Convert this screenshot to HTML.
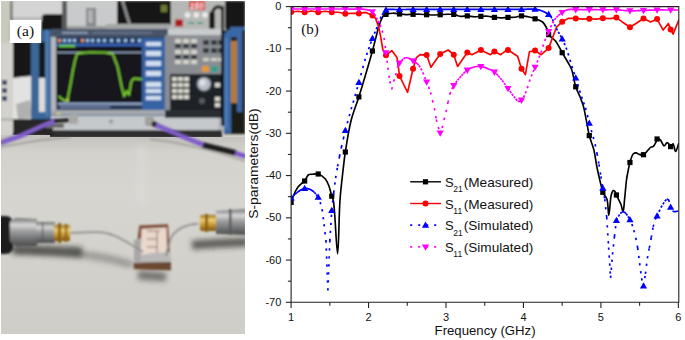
<!DOCTYPE html>
<html><head><meta charset="utf-8"><style>
html,body{margin:0;padding:0;background:#fff;width:685px;height:340px;overflow:hidden}
svg{display:block}
text{font-family:"Liberation Sans",sans-serif;fill:#111}
</style></head><body>
<svg width="685" height="340" viewBox="0 0 685 340">
<defs>
<clipPath id="pc"><rect x="291.1" y="6.6" width="387.7" height="295.7"/></clipPath>
<clipPath id="phc"><rect x="1" y="1" width="244" height="333"/></clipPath>
<filter id="bl" filterUnits="userSpaceOnUse" x="0" y="0" width="250" height="340"><feGaussianBlur stdDeviation="0.9"/></filter>
<filter id="bl2" filterUnits="userSpaceOnUse" x="0" y="0" width="250" height="340"><feGaussianBlur stdDeviation="2.5"/></filter>
</defs>
<g clip-path="url(#phc)">
<rect x="1" y="1" width="244" height="332" fill="#d2d1cc"/>
<g filter="url(#bl)">
<!-- top background -->
<rect x="1" y="1" width="244" height="40" fill="#bfc0c0"/>
<rect x="8" y="1" width="56" height="22" fill="#d3d4d3"/>
<path d="M41,30 L41,19 C41,16 43,14 47,14 L66,14 L66,30 Z" fill="#141414"/>
<rect x="12" y="17" width="30" height="4" fill="#b8b9b8"/>
<rect x="62" y="1" width="6" height="30" fill="#5a5a5a"/>
<rect x="67" y="1" width="51" height="29" fill="#c9cacb"/>
<rect x="67" y="26" width="51" height="4" fill="#9a9b9c"/>
<rect x="86" y="8" width="10" height="18" fill="#858688"/>
<rect x="88" y="10" width="5" height="13" fill="#b0b2b4"/>
<rect x="117" y="1" width="54" height="24" fill="#121416"/>
<path d="M121,1 L124,1 L131,24 L128,24 Z" fill="#8c8e90"/>
<rect x="161" y="5" width="6" height="7" fill="#6a7a30"/>
<rect x="106" y="24" width="64" height="7" fill="#a4a5a6"/>
<rect x="171" y="1" width="54" height="31" fill="#b6b8b5"/>
<rect x="189" y="1" width="16" height="9" fill="#d02020"/>
<text x="189.5" y="9" font-size="8.5" style="fill:#ffffff;font-family:'Liberation Sans',sans-serif;font-weight:bold;font-style:italic">150</text>
<circle cx="187.5" cy="15" r="2.8" fill="#ececec"/>
<circle cx="196.3" cy="15" r="2.8" fill="#ececec"/>
<circle cx="205" cy="15" r="2.8" fill="#ececec"/>
<rect x="175" y="19.5" width="8" height="7" fill="#b01818"/>
<rect x="188" y="22" width="6" height="2" fill="#4a9a8a"/>
<rect x="197" y="22" width="6" height="2" fill="#4a9a8a"/>
<rect x="225" y="1" width="20" height="30" fill="#121212"/>
<rect x="209" y="12" width="6" height="17" rx="2" fill="#1a1a1a"/>
<path d="M212,14 C214,6 220,5 221.5,9" fill="none" stroke="#0c0c0c" stroke-width="3"/>
<rect x="230" y="27" width="15" height="13" fill="#3a66a0"/>
<!-- left equipment strip -->
<rect x="1" y="1" width="8" height="42" fill="#c9c9bd"/>
<rect x="10" y="1" width="2.5" height="40" fill="#6a6a62"/>

<rect x="1" y="44" width="3" height="10" fill="#c88a30"/>
<rect x="2" y="80" width="5" height="5" fill="#3a4a6a"/>
<rect x="2" y="88" width="5" height="5" fill="#3a4a6a"/>
<rect x="2" y="96" width="5" height="5" fill="#3a4a6a"/>

<rect x="12" y="33" width="20" height="47" fill="#131415"/>
<path d="M12,78 L31,76 L33,121 L12,121 Z" fill="#e2e2e2"/>
<path d="M16,104 L30,100 L32,118 L18,119 Z" fill="#b0b0b0"/>
<!-- blue frame left -->
<rect x="39" y="42" width="6" height="36" fill="#121314"/>
<rect x="39" y="78" width="6" height="34" fill="#dcdcdc"/>
<path d="M31,42 L39,42 L39,30 L51,30 L51,118 C51,121 49,122 46,122 L36,122 C33,122 31,120 31,117 Z M39,42 L39,112 L45,112 L45,42 Z" fill="#3b6698" fill-rule="evenodd"/>
<rect x="46" y="30" width="2" height="86" fill="#5584bc"/>
<!-- instrument body -->
<rect x="51" y="29" width="175" height="103" fill="#b4b8bc"/>
<rect x="51" y="29" width="117" height="8" fill="#465266"/>
<rect x="62" y="32" width="26" height="1.6" fill="#9aa8c0"/>
<rect x="92" y="32" width="60" height="1.6" fill="#6a7890"/>
<rect x="168" y="29" width="58" height="7" fill="#c9ccce"/>
<!-- screen -->
<rect x="56" y="37" width="109" height="73" fill="#12171f"/>
<rect x="56" y="37" width="109" height="7" fill="#22365a"/>
<g fill="#e89a6a"><rect x="58" y="39" width="3" height="3"/><rect x="81" y="39" width="3" height="3"/></g>
<g fill="#9cc8f0"><rect x="63" y="39" width="3" height="3"/><rect x="68" y="39" width="3" height="3"/><rect x="73" y="39" width="3" height="3"/><rect x="86" y="39" width="3" height="3"/><rect x="91" y="39" width="3" height="3"/><rect x="97" y="39" width="3" height="3"/><rect x="103" y="39" width="3" height="3"/><rect x="110" y="39" width="3" height="3"/><rect x="117" y="39" width="3" height="3"/><rect x="124" y="39" width="3" height="3"/><rect x="131" y="39" width="3" height="3"/><rect x="138" y="39" width="3" height="3"/></g>
<rect x="56" y="44" width="86" height="2.2" fill="#3a66c0"/>
<rect x="59" y="45" width="16" height="2" fill="#6fd040"/>
<rect x="57" y="52" width="85" height="1" fill="#9fb4d0"/>
<rect x="56" y="102" width="88" height="8" fill="#2c3c5c"/>
<rect x="58" y="103" width="84" height="1.6" fill="#a8bcdc"/>
<rect x="60" y="106.5" width="50" height="1.3" fill="#8ea4c8"/>
<rect x="142" y="38" width="23" height="72" fill="#3564a4"/>
<g fill="#d0def0"><rect x="146" y="42" width="15" height="4"/><rect x="146" y="51" width="15" height="5"/><rect x="146" y="61" width="15" height="5"/><rect x="146" y="71" width="15" height="5"/><rect x="146" y="82" width="15" height="5"/><rect x="146" y="89" width="15" height="4"/><rect x="146" y="96" width="15" height="4"/></g>
<path d="M58.4,96 L62,99 L65,101 L67.5,100 L70.7,83 L73,70 L75,60.6 L77.2,53.5 L90,52.3 L104.7,52.5 L112.8,54 L117.7,67 L121.6,86.5 L124.1,96 L126.7,91.3 L129,94.6 L131.3,81.6 L133.9,78.4 L142,79.4" fill="none" stroke="#86dc30" stroke-width="1.6"/>
<circle cx="67.5" cy="100.5" r="1.3" fill="#e0f070"/>
<!-- below screen strip -->
<rect x="51" y="110" width="175" height="5" fill="#a4a8ad"/>
<rect x="51" y="115" width="167" height="1.2" fill="#4a6a9a"/>
<rect x="51" y="116" width="167" height="15" fill="#c6c9cc"/>
<circle cx="58.4" cy="114" r="1.3" fill="#e8e020"/>
<circle cx="111" cy="121.5" r="2.2" fill="#9a9ea2"/>
<!-- right keypad -->
<rect x="165" y="35" width="60" height="75" fill="#8a8e93"/>
<g fill="#d4d3cb">
<rect x="175" y="39" width="6" height="4"/><rect x="183" y="39" width="6" height="4"/><rect x="191" y="39" width="6" height="4"/>
<rect x="175" y="50" width="6" height="4"/><rect x="183" y="50" width="6" height="4"/><rect x="191" y="50" width="6" height="4"/>
<rect x="175" y="60" width="6" height="4"/><rect x="183" y="60" width="6" height="4"/><rect x="191" y="60" width="6" height="4"/>
<rect x="203" y="58" width="6" height="3"/><rect x="211" y="58" width="6" height="3"/><rect x="218" y="58" width="5" height="3"/>
</g>
<g fill="#34373b">
<rect x="175" y="44" width="6" height="4"/><rect x="183" y="44" width="6" height="4"/><rect x="191" y="44" width="6" height="4"/>
<rect x="175" y="55" width="6" height="4"/><rect x="183" y="55" width="6" height="4"/><rect x="191" y="55" width="6" height="4"/>
<rect x="203" y="40" width="6" height="5"/><rect x="211" y="40" width="6" height="5"/><rect x="218" y="40" width="5" height="5"/>
<rect x="203" y="48" width="6" height="5"/><rect x="211" y="48" width="6" height="5"/><rect x="218" y="48" width="5" height="5"/>
</g>
<rect x="202" y="66" width="7" height="6" rx="2" fill="#e8982c"/>
<rect x="211" y="66" width="7" height="6" rx="2" fill="#2e9e8e"/>
<rect x="170" y="74" width="53" height="36" fill="#1f2226"/>
<g fill="#d8d7cf">
<rect x="172" y="77" width="5" height="4"/><rect x="178" y="77" width="5" height="4"/><rect x="184" y="77" width="5" height="4"/>
<rect x="172" y="83" width="5" height="4"/><rect x="178" y="83" width="5" height="4"/><rect x="184" y="83" width="5" height="4"/>
<rect x="172" y="89" width="5" height="4"/><rect x="178" y="89" width="5" height="4"/><rect x="184" y="89" width="5" height="4"/>
<rect x="172" y="95" width="5" height="4"/><rect x="178" y="95" width="5" height="4"/><rect x="184" y="95" width="5" height="4"/>
<rect x="215" y="83" width="5" height="4"/><rect x="215" y="97" width="5" height="4"/><rect x="215" y="103" width="5" height="4"/>
</g>
<circle cx="204" cy="84" r="8" fill="#444a52"/>
<circle cx="204" cy="84" r="6.5" fill="#b8c0c8"/>
<circle cx="202.5" cy="82.5" r="3" fill="#dce2e8"/>
<circle cx="202" cy="101" r="3" fill="#555a60"/>
<rect x="165" y="110" width="59" height="8" fill="#2a2d31"/>
<!-- right blue frame -->
<rect x="224" y="30" width="21" height="104" fill="#1e1c18"/>
<rect x="231" y="41" width="6" height="62" fill="#b47c34"/>
<path d="M224,34 L228,30 L242,30 L242,112 L237,112 L237,37 L231,37 L231,133 L224,133 Z" fill="#3a68a4"/>
<rect x="225.5" y="38" width="1.5" height="90" fill="#5a8ac4"/>
<path d="M222.5,6 C222.5,30 222.5,60 222.5,126" fill="none" stroke="#0c0c0c" stroke-width="3"/>
<!-- shadow under instrument -->
<rect x="46" y="130" width="176" height="8" fill="#2e2e2e"/>
<rect x="13" y="119" width="40" height="17" fill="#272727"/>
<rect x="46" y="123" width="18" height="5" fill="#6a6a6a"/>
<rect x="1" y="43" width="12" height="89" fill="#d3d2cc"/>
<rect x="2" y="80" width="5" height="5" fill="#3a4a6a"/>
<rect x="2" y="88" width="5" height="5" fill="#3a4a6a"/>
<rect x="2" y="96" width="5" height="5" fill="#3a4a6a"/>
<rect x="1" y="118" width="12" height="3" fill="#b8b8b4"/>
</g>
<!-- table -->
<linearGradient id="tg" x1="0" y1="137" x2="0" y2="334" gradientUnits="userSpaceOnUse"><stop offset="0" stop-color="#c4c3be"/><stop offset="0.08" stop-color="#d3d2cd"/><stop offset="0.3" stop-color="#d6d5d0"/><stop offset="1" stop-color="#cfcdc8"/></linearGradient>
<rect x="1" y="137" width="244" height="197" fill="url(#tg)"/>
<path d="M1,135 L50,135 L50,137 L1,137 Z" fill="#c4c3be"/>
<rect x="137" y="145" width="10" height="60" fill="#dfdeda" filter="url(#bl2)" opacity="0.4"/>
<g filter="url(#bl)">
<path d="M150,139 C185,143 215,151 245,161" fill="none" stroke="#8a8984" stroke-width="1.5" opacity="0.7"/>
<!-- purple cables -->
<path d="M0,147 L35,141 L70,137" fill="none" stroke="#6a6964" stroke-width="1.2" opacity="0.7"/>
<path d="M0,143 L20,136 L42,126 L56,120.5" fill="none" stroke="#7c58c8" stroke-width="5"/>
<path d="M0,143 L20,136 L42,126 L56,120.5" fill="none" stroke="#9a80dc" stroke-width="1.5" stroke-dasharray="1.5 2" opacity="0.7"/>
<path d="M54,121 L71,120" fill="none" stroke="#222" stroke-width="4"/>
<rect x="69" y="114" width="9" height="10" rx="2" fill="#a8a8a6"/>
<rect x="145" y="116" width="9" height="10" rx="2" fill="#a0a09e"/>
<path d="M152,123 L158,126" fill="none" stroke="#222" stroke-width="5"/>
<path d="M156,125 C172,132 188,139 204,145" fill="none" stroke="#7c58c8" stroke-width="4.8"/>
<path d="M156,125 C172,132 188,139 204,145" fill="none" stroke="#9a80dc" stroke-width="1.4" stroke-dasharray="1.5 2" opacity="0.7"/>
<path d="M203,145 L236,153" fill="none" stroke="#1c1c1c" stroke-width="5.5"/>
<path d="M235,153 L246,156.5" fill="none" stroke="#7c58c8" stroke-width="4.8"/>
<!-- shadows -->
<path d="M15,252 C50,252 90,255 130,266" fill="none" stroke="#7a7975" stroke-width="4" opacity="0.6" filter="url(#bl2)"/>
<path d="M192,245 C205,244 225,243 248,242" fill="none" stroke="#2e2d2a" stroke-width="9" opacity="0.7" filter="url(#bl2)"/>
<path d="M138,275 L166,277" fill="none" stroke="#3a3935" stroke-width="9" opacity="0.6" filter="url(#bl2)"/>
<!-- left connector -->
<linearGradient id="cg" x1="0" y1="0" x2="0" y2="1"><stop offset="0" stop-color="#707172"/><stop offset="0.25" stop-color="#d8d8d8"/><stop offset="0.45" stop-color="#a0a1a2"/><stop offset="1" stop-color="#4a4b4c"/></linearGradient>
<linearGradient id="gg" x1="0" y1="0" x2="0" y2="1"><stop offset="0" stop-color="#9a7020"/><stop offset="0.3" stop-color="#f0d070"/><stop offset="0.6" stop-color="#c89a38"/><stop offset="1" stop-color="#7a5410"/></linearGradient>
<path d="M12,249 C40,250 60,251 82,252" fill="none" stroke="#2e2d2a" stroke-width="10" opacity="0.7" filter="url(#bl2)"/>
<path d="M70,252 C100,254 118,258 136,265" fill="none" stroke="#3e3d3a" stroke-width="3" opacity="0.5" filter="url(#bl2)"/>
<rect x="-6" y="216" width="19" height="38" rx="7" fill="#1c1c1c"/>
<path d="M10,222 C12,219 14,218 18,218 L37,219 L37,246 L18,246 C14,246 12,244 10,241 Z" fill="url(#cg)"/>
<rect x="36" y="222" width="19" height="21" fill="url(#cg)"/>
<rect x="42" y="222" width="1.2" height="21" fill="#555"/>
<rect x="54" y="225" width="16" height="16" rx="1" fill="url(#gg)"/>
<rect x="58" y="223" width="3" height="20" fill="#8a6010"/>
<rect x="65" y="224" width="2" height="18" fill="#8a6010"/>
<path d="M70,233 C90,232 104,231 112,235" fill="none" stroke="#8e8e8c" stroke-width="1.7"/>
<!-- device -->
<path d="M139.3,225.6 L168,224.3 L170.9,270.2 L133.8,269.1 Z" fill="#7e4a30"/>
<path d="M141.5,228.8 L166.5,227.6 L167.2,258 L140.5,259 Z" fill="#ead8cc"/>
<path d="M147,231 L157,231 L157,255 L147,255 M147,239 L157,239 M147,247 L157,247 M157,231 L160,231" fill="none" stroke="#7a5a50" stroke-width="0.8"/>
<path d="M135,256 L152,253 L170,252 L170.9,262 L134,263 Z" fill="#b9b9b9"/>
<path d="M133.8,263 L170.9,262 L170.9,270.2 L133.8,269.1 Z" fill="#6a4a30"/>
<path d="M134,240 L141,238 L141,262 L134,263 Z" fill="#a8a8a8"/>

<path d="M110,234 C122,238 132,245 143,252" fill="none" stroke="#8e8e8c" stroke-width="1.7"/>
<path d="M198.2,223.8 C188,224 178,228 172,236 C169,242 167,250 166,256" fill="none" stroke="#8e8e8c" stroke-width="1.7"/>
<!-- right connector -->
<rect x="200" y="215" width="17" height="16" rx="2" fill="url(#gg)"/>
<rect x="205" y="214" width="3" height="18" fill="#8a6010"/>
<path d="M216,211 L246,209 L246,235 L216,234 Z" fill="url(#cg)"/>
<rect x="229" y="209" width="2.5" height="26" fill="#5a5a5a"/>
</g>
</g>
<rect x="9.7" y="19.9" width="31.5" height="23.1" fill="#fff"/>
<text x="16.8" y="36.2" font-size="15.6" style="font-family:'Liberation Serif',serif">(a)</text>

<g clip-path="url(#pc)">
<path d="M291.1,202.4 C292.5,198.77 293.9,194.33 295.3,191.5 C296.27,189.55 297.14,188.14 298.2,186.8 C299.13,185.63 300.14,184.76 301.2,183.8 C302.29,182.82 303.57,182.24 304.65,181 C306.05,179.41 306.95,175.68 308.5,174.7 C309.6,174 310.82,174.41 312.2,174.3 C313.96,174.16 316.21,173.43 318.21,174 C320.62,174.69 323.58,176.88 325.4,179 C327.18,181.07 328.07,183.79 329.1,186.5 C330.23,189.48 330.94,193.54 331.76,196.2 C332.34,198.09 332.88,198.49 333.4,201 C335.08,209.11 336.5,253.82 337.6,253.8 C338.71,253.78 338.85,215.6 340,200 C340.89,187.94 342.29,176.83 343.3,168 C344.02,161.75 344.35,158.23 345.32,152 C346.69,143.15 348.71,129.72 351.2,120 C353.36,111.59 356.45,104.51 358.87,96.9 C361.21,89.52 363.29,82.47 365.5,75 C367.81,67.19 370.49,58.08 372.42,51 C373.95,45.43 375.2,40.34 376.3,36 C377.14,32.68 377.62,30.05 378.5,27.2 C379.36,24.42 380.48,21.24 381.5,19.1 C382.22,17.59 382.82,16.18 383.7,15.4 C384.37,14.81 384.98,14.7 385.98,14.4 C387.69,13.89 390.87,13.25 393.2,13.2 C395.38,13.16 397.41,13.77 399.53,14 C401.67,14.23 403.79,14.54 406,14.6 C408.31,14.66 410.74,14.37 413.09,14.3 C415.4,14.23 417.72,14.13 420,14.2 C422.24,14.27 424.45,14.57 426.64,14.7 C428.78,14.83 430.81,14.99 433,15 C435.32,15.01 437.83,14.82 440.19,14.7 C442.49,14.58 444.74,14.35 447,14.3 C449.25,14.25 451.56,14.06 453.75,14.4 C455.9,14.74 457.81,16.04 460,16.3 C462.32,16.58 464.88,15.82 467.3,15.9 C469.71,15.98 472.17,16.75 474.5,16.8 C476.68,16.85 478.67,16.4 480.86,16.3 C483.17,16.19 485.69,16 488,16.2 C490.2,16.39 492.25,17.13 494.41,17.4 C496.58,17.67 498.77,17.8 501,17.8 C503.29,17.8 505.64,17.5 507.96,17.4 C510.3,17.3 512.71,17.46 515,17.2 C517.23,16.95 519.34,15.96 521.52,15.9 C523.68,15.84 525.81,16.34 528,16.8 C530.32,17.29 532.7,17.97 535.07,18.8 C537.57,19.68 540.62,20.33 542.6,22 C544.55,23.65 545.88,26.46 546.9,28.7 C547.8,30.66 547.47,32.73 548.63,34.6 C550.07,36.95 553.58,38.5 555.7,41.2 C558.18,44.35 560.03,48.98 562.18,52.7 C564.23,56.24 566.59,59.87 568.3,63 C569.68,65.53 570.75,67.09 571.8,70 C573.36,74.32 574.1,81.79 575.73,86.8 C577.12,91.06 579.26,94.84 580.6,98.3 C581.68,101.08 582.44,102.84 583.3,105.9 C584.55,110.37 585.75,117.47 586.8,122.7 C587.72,127.28 588.17,131.22 589.29,135.6 C590.49,140.3 592.66,144.99 593.9,150 C595.2,155.27 595.65,160.79 596.8,166.5 C598.05,172.72 600.06,181.19 601.2,185.9 C601.86,188.62 601.97,190.2 602.84,192.3 C603.8,194.6 605.92,196.22 606.9,199.1 C608.3,203.23 608.12,215.3 608.8,215.3 C609.57,215.3 610.11,198.88 611.3,194.7 C611.86,192.75 612.41,190.88 613.2,190.6 C613.73,190.41 614.51,190.97 615,191.5 C615.67,192.23 615.76,193.57 616.4,195 C617.44,197.37 619.75,201.34 620.9,204.3 C621.89,206.84 622.52,211.65 623.1,211.6 C623.85,211.53 624.09,203.71 624.6,199.1 C625.22,193.41 625.87,184.68 626.5,180 C626.87,177.26 627.13,175.94 627.6,173.5 C628.21,170.31 628.94,165.89 629.95,162.5 C630.85,159.45 631.74,155.44 633.2,154 C634.07,153.15 635.22,152.84 636.2,152.9 C637.19,152.96 638,154.09 639.1,154.4 C640.38,154.76 642.14,155.21 643.5,154.7 C645.12,154.09 646.58,151.66 647.9,150.3 C649.01,149.16 649.89,147.68 650.9,147.1 C651.63,146.68 652.41,147.08 653.1,146.6 C654.16,145.87 655.33,143.59 656,142.2 C656.54,141.09 656.34,139.38 657.06,139 C657.79,138.62 659.39,139.23 660.4,140 C661.83,141.09 662.86,145.79 664.1,145.9 C665.09,145.99 666.15,142.67 667.1,142.6 C667.86,142.54 668.71,143.71 669.3,144.4 C669.86,145.05 670.08,146.56 670.61,146.6 C671.26,146.65 672.29,143.57 673,143.7 C674.05,143.9 674.66,151.48 675.6,151.5 C676.59,151.52 677.73,145.83 678.8,143" fill="none" stroke="#000" stroke-width="1.65" />
<g fill="#000"><rect x="288.5" y="199.8" width="5.2" height="5.2"/><rect x="302.05" y="178.4" width="5.2" height="5.2"/><rect x="315.61" y="171.4" width="5.2" height="5.2"/><rect x="329.16" y="193.6" width="5.2" height="5.2"/><rect x="342.72" y="149.4" width="5.2" height="5.2"/><rect x="356.27" y="94.3" width="5.2" height="5.2"/><rect x="369.82" y="48.4" width="5.2" height="5.2"/><rect x="383.38" y="11.8" width="5.2" height="5.2"/><rect x="396.93" y="11.4" width="5.2" height="5.2"/><rect x="410.49" y="11.7" width="5.2" height="5.2"/><rect x="424.04" y="12.1" width="5.2" height="5.2"/><rect x="437.59" y="12.1" width="5.2" height="5.2"/><rect x="451.15" y="11.8" width="5.2" height="5.2"/><rect x="464.7" y="13.3" width="5.2" height="5.2"/><rect x="478.26" y="13.7" width="5.2" height="5.2"/><rect x="491.81" y="14.8" width="5.2" height="5.2"/><rect x="505.36" y="14.8" width="5.2" height="5.2"/><rect x="518.92" y="13.3" width="5.2" height="5.2"/><rect x="532.47" y="16.2" width="5.2" height="5.2"/><rect x="546.03" y="32" width="5.2" height="5.2"/><rect x="559.58" y="50.1" width="5.2" height="5.2"/><rect x="573.13" y="84.2" width="5.2" height="5.2"/><rect x="586.69" y="133" width="5.2" height="5.2"/><rect x="600.24" y="189.7" width="5.2" height="5.2"/><rect x="613.8" y="192.4" width="5.2" height="5.2"/><rect x="627.35" y="159.9" width="5.2" height="5.2"/><rect x="640.9" y="152.1" width="5.2" height="5.2"/><rect x="654.46" y="136.4" width="5.2" height="5.2"/><rect x="668.01" y="144" width="5.2" height="5.2"/></g>
<path d="M291.1,12 L298,11.2 L304.65,12.2 L311.5,11 L318.21,12.2 L325,11.2 L331.76,12.2 L338.5,12.3 L345.32,13.8 L352,13.2 L358.87,13.4 L366,12.4 L372.42,15.4 L375.6,18.4 L378.5,26.5 L380.7,36.8 L382.9,50 L385.98,55.3 L391.8,50.6 L397,57.6 L398.8,70 L399.53,76 L407.6,92.3 L413.09,68.7 L416.4,57.6 L420,54.6 L426.64,55.1 L430.9,67.2 L440.19,54 L448.2,50 L453.75,54.7 L457.6,66.5 L467.3,52.5 L472,54.7 L480.86,50 L490.4,54.7 L494.41,51.5 L500.7,54.7 L504.4,51.8 L507.96,50 L517.6,56.2 L521.52,68.7 L525.4,74.6 L529.4,51.8 L535.07,50.6 L541.2,54.7 L548.63,48.1 L556.5,27.2 L562.18,21.8 L568.2,18.4 L575.73,18.4 L583,19.1 L589.29,18.8 L596.2,19.1 L602.84,18.2 L610,18.6 L616.4,17.6 L623.5,22.8 L629.95,27.2 L636,23.5 L643.5,18.4 L650.7,22 L657.06,19.1 L663.2,30.1 L668.4,23.5 L670.61,29.4 L673.1,34.1 L679.2,19.1" fill="none" stroke="#ff0000" stroke-width="1.65" stroke-linejoin="round" />
<g fill="#ff0000"><circle cx="291.1" cy="12" r="3"/><circle cx="304.65" cy="12.2" r="3"/><circle cx="318.21" cy="12.2" r="3"/><circle cx="331.76" cy="12.2" r="3"/><circle cx="345.32" cy="13.8" r="3"/><circle cx="358.87" cy="13.4" r="3"/><circle cx="372.42" cy="15.4" r="3"/><circle cx="385.98" cy="55.3" r="3"/><circle cx="399.53" cy="76" r="3"/><circle cx="413.09" cy="68.7" r="3"/><circle cx="426.64" cy="55.1" r="3"/><circle cx="440.19" cy="54" r="3"/><circle cx="453.75" cy="54.7" r="3"/><circle cx="467.3" cy="52.5" r="3"/><circle cx="480.86" cy="50" r="3"/><circle cx="494.41" cy="51.5" r="3"/><circle cx="507.96" cy="50" r="3"/><circle cx="521.52" cy="68.7" r="3"/><circle cx="535.07" cy="50.6" r="3"/><circle cx="548.63" cy="48.1" r="3"/><circle cx="562.18" cy="21.8" r="3"/><circle cx="575.73" cy="18.4" r="3"/><circle cx="589.29" cy="18.8" r="3"/><circle cx="602.84" cy="18.2" r="3"/><circle cx="616.4" cy="17.6" r="3"/><circle cx="629.95" cy="27.2" r="3"/><circle cx="643.5" cy="18.4" r="3"/><circle cx="657.06" cy="19.1" r="3"/><circle cx="670.61" cy="29.4" r="3"/></g>
<path d="M291.1,197.9L293.04,196.08M293.04,196.08L294.97,194.24M294.97,194.24L296.91,192.6M296.91,192.6L298.84,191.27M298.84,191.27L300.78,190.08M300.78,190.08L302.72,189.1M302.72,189.1L304.65,188.5M304.65,188.5L306.59,188.42M306.59,188.42L308.53,188.81M308.53,188.81L310.46,189.56M310.46,189.56L312.4,190.73M312.4,190.73L314.33,192.32M314.33,192.32L316.27,194.45M316.27,194.45L318.21,197.3M318.21,197.3L320.14,202.13M320.14,202.13L322.08,209.21M322.08,209.21L324.02,224.1M324.02,224.1L325.95,240.38M325.95,240.38L327.89,290.48M327.89,290.48L329.82,241M329.82,241L331.76,210.59M331.76,210.59L333.7,192.66M333.7,192.66L335.63,178.14M335.63,178.14L337.57,166.46M337.57,166.46L339.51,156.49M339.51,156.49L341.44,147.27M341.44,147.27L343.38,138.67M343.38,138.67L345.31,130.62M345.31,130.62L347.25,123.17M347.25,123.17L349.19,116.14M349.19,116.14L351.12,109.33M351.12,109.33L353.06,102.65M353.06,102.65L355,96.01M355,96.01L356.93,89.34M356.93,89.34L358.87,82.5M358.87,82.5L360.8,75.29M360.8,75.29L362.74,67.9M362.74,67.9L364.68,61.06M364.68,61.06L366.61,54.94M366.61,54.94L368.55,49.21M368.55,49.21L370.49,43.73M370.49,43.73L372.42,38.49M372.42,38.49L374.36,33.72M374.36,33.72L376.29,29.2M376.29,29.2L378.23,24.02M378.23,24.02L380.17,18.71M380.17,18.71L382.1,14.85M382.1,14.85L384.04,11.69M384.04,11.69L385.98,10M385.98,10L387.91,9.43M387.91,9.43L389.85,9.27M389.85,9.27L391.78,9.28M391.78,9.28L393.72,9.37M393.72,9.37L395.66,9.48M395.66,9.48L397.59,9.58M397.59,9.58L399.53,9.6M399.53,9.6L401.47,9.56M401.47,9.56L403.4,9.52M403.4,9.52L405.34,9.49M405.34,9.49L407.27,9.46M407.27,9.46L409.21,9.44M409.21,9.44L411.15,9.42M411.15,9.42L413.08,9.4M413.08,9.4L415.02,9.39M415.02,9.39L416.96,9.39M416.96,9.39L418.89,9.39M418.89,9.39L420.83,9.39M420.83,9.39L422.76,9.39M422.76,9.39L424.7,9.4M424.7,9.4L426.64,9.4M426.64,9.4L428.57,9.4M428.57,9.4L430.51,9.4M430.51,9.4L432.45,9.4M432.45,9.4L434.38,9.4M434.38,9.4L436.32,9.4M436.32,9.4L438.25,9.4M438.25,9.4L440.19,9.4M440.19,9.4L442.13,9.4M442.13,9.4L444.06,9.4M444.06,9.4L446,9.4M446,9.4L447.94,9.4M447.94,9.4L449.87,9.4M449.87,9.4L451.81,9.4M451.81,9.4L453.74,9.4M453.74,9.4L455.68,9.4M455.68,9.4L457.62,9.4M457.62,9.4L459.55,9.4M459.55,9.4L461.49,9.4M461.49,9.4L463.43,9.4M463.43,9.4L465.36,9.4M465.36,9.4L467.3,9.4M467.3,9.4L469.23,9.4M469.23,9.4L471.17,9.4M471.17,9.4L473.11,9.4M473.11,9.4L475.04,9.4M475.04,9.4L476.98,9.4M476.98,9.4L478.92,9.4M478.92,9.4L480.85,9.4M480.85,9.4L482.79,9.4M482.79,9.4L484.72,9.4M484.72,9.4L486.66,9.4M486.66,9.4L488.6,9.4M488.6,9.4L490.53,9.4M490.53,9.4L492.47,9.4M492.47,9.4L494.41,9.4M494.41,9.4L496.34,9.4M496.34,9.4L498.28,9.4M498.28,9.4L500.21,9.4M500.21,9.4L502.15,9.4M502.15,9.4L504.09,9.4M504.09,9.4L506.02,9.4M506.02,9.4L507.96,9.4M507.96,9.4L509.9,9.4M509.9,9.4L511.83,9.41M511.83,9.41L513.77,9.41M513.77,9.41L515.7,9.41M515.7,9.41L517.64,9.41M517.64,9.41L519.58,9.41M519.58,9.41L521.51,9.4M521.51,9.4L523.45,9.36M523.45,9.36L525.39,9.29M525.39,9.29L527.32,9.2M527.32,9.2L529.26,9.12M529.26,9.12L531.19,9.07M531.19,9.07L533.13,9.08M533.13,9.08L535.07,9.2M535.07,9.2L537,9.47M537,9.47L538.94,9.93M538.94,9.93L540.88,10.56M540.88,10.56L542.81,11.3M542.81,11.3L544.75,12.14M544.75,12.14L546.68,13.13M546.68,13.13L548.62,14.39M548.62,14.39L550.56,16.3M550.56,16.3L552.49,19.32M552.49,19.32L554.43,24.38M554.43,24.38L556.37,28.36M556.37,28.36L558.3,31.82M558.3,31.82L560.24,35.33M560.24,35.33L562.17,38.99M562.17,38.99L564.11,43.08M564.11,43.08L566.05,47.62M566.05,47.62L567.98,53.22M567.98,53.22L569.92,59.78M569.92,59.78L571.86,66M571.86,66L573.79,71.97M573.79,71.97L575.73,78M575.73,78L577.66,84.22M577.66,84.22L579.6,90.51M579.6,90.51L581.54,96.61M581.54,96.61L583.47,102.18M583.47,102.18L585.41,107.8M585.41,107.8L587.35,115M587.35,115L589.28,123.17M589.28,123.17L591.22,130.12M591.22,130.12L593.15,136.85M593.15,136.85L595.09,144.29M595.09,144.29L597.03,153.51M597.03,153.51L598.96,164.42M598.96,164.42L600.9,176.28M600.9,176.28L602.84,188.18M602.84,188.18L604.77,199.11M604.77,199.11L606.71,217.22M606.71,217.22L608.64,247.43M608.64,247.43L610.58,277.89M610.58,277.89L612.52,254.51M612.52,254.51L614.45,236.41M614.45,236.41L616.39,220.53M616.39,220.53L618.33,216.55M618.33,216.55L620.26,213.65M620.26,213.65L622.2,211.87M622.2,211.87L624.13,211.87M624.13,211.87L626.07,213.59M626.07,213.59L628.01,216.34M628.01,216.34L629.94,219.69M629.94,219.69L631.88,224.04M631.88,224.04L633.82,230.09M633.82,230.09L635.75,237.74M635.75,237.74L637.69,247.87M637.69,247.87L639.62,263.14M639.62,263.14L641.56,278.29M641.56,278.29L643.5,286M643.5,286L645.43,273.87M645.43,273.87L647.37,258.45M647.37,258.45L649.31,247.83M649.31,247.83L651.24,237.72M651.24,237.72L653.18,226.88M653.18,226.88L655.11,219.49M655.11,219.49L657.05,216.02M657.05,216.02L658.99,211.8M658.99,211.8L660.92,207.64M660.92,207.64L662.86,204.27M662.86,204.27L664.8,201.3M664.8,201.3L666.73,199.1M666.73,199.1L668.67,199.81M668.67,199.81L670.6,207.19M670.6,207.19L672.54,210.93M672.54,210.93L674.48,211.8M674.48,211.8L676.41,211.46M676.41,211.46L678.35,210.97" fill="none" stroke="#0000ff" stroke-width="1.7" stroke-dasharray="2.3 5.7" />
<g fill="#0000ff"><path d="M291.1,194.12 L294.7,200.42 L287.5,200.42Z"/><path d="M304.65,184.72 L308.25,191.02 L301.05,191.02Z"/><path d="M318.21,193.52 L321.81,199.82 L314.61,199.82Z"/><path d="M331.76,206.82 L335.36,213.12 L328.16,213.12Z"/><path d="M345.32,126.82 L348.92,133.12 L341.72,133.12Z"/><path d="M358.87,78.72 L362.47,85.02 L355.27,85.02Z"/><path d="M372.42,34.72 L376.02,41.02 L368.82,41.02Z"/><path d="M385.98,6.22 L389.58,12.52 L382.38,12.52Z"/><path d="M399.53,5.82 L403.13,12.12 L395.93,12.12Z"/><path d="M413.09,5.62 L416.69,11.92 L409.49,11.92Z"/><path d="M426.64,5.62 L430.24,11.92 L423.04,11.92Z"/><path d="M440.19,5.62 L443.79,11.92 L436.59,11.92Z"/><path d="M453.75,5.62 L457.35,11.92 L450.15,11.92Z"/><path d="M467.3,5.62 L470.9,11.92 L463.7,11.92Z"/><path d="M480.86,5.62 L484.46,11.92 L477.26,11.92Z"/><path d="M494.41,5.62 L498.01,11.92 L490.81,11.92Z"/><path d="M507.96,5.62 L511.56,11.92 L504.36,11.92Z"/><path d="M521.52,5.62 L525.12,11.92 L517.92,11.92Z"/><path d="M535.07,5.42 L538.67,11.72 L531.47,11.72Z"/><path d="M548.63,10.62 L552.23,16.92 L545.03,16.92Z"/><path d="M562.18,35.22 L565.78,41.52 L558.58,41.52Z"/><path d="M575.73,74.22 L579.33,80.52 L572.13,80.52Z"/><path d="M589.29,119.42 L592.89,125.72 L585.69,125.72Z"/><path d="M602.84,184.42 L606.44,190.72 L599.24,190.72Z"/><path d="M616.4,216.72 L620,223.02 L612.8,223.02Z"/><path d="M629.95,215.92 L633.55,222.22 L626.35,222.22Z"/><path d="M643.5,282.22 L647.1,288.52 L639.9,288.52Z"/><path d="M657.06,212.22 L660.66,218.52 L653.46,218.52Z"/><path d="M670.61,203.42 L674.21,209.72 L667.01,209.72Z"/></g>
<path d="M291.1,9L293.04,9M293.04,9L294.97,9M294.97,9L296.91,9M296.91,9L298.84,9M298.84,9L300.78,9M300.78,9L302.72,9M302.72,9L304.65,9M304.65,9L306.59,9M306.59,9L308.53,9M308.53,9L310.46,9M310.46,9L312.4,9M312.4,9L314.33,9M314.33,9L316.27,9M316.27,9L318.21,9M318.21,9L320.14,9M320.14,9L322.08,9M322.08,9L324.02,9M324.02,9L325.95,9M325.95,9L327.89,9M327.89,9L329.82,9M329.82,9L331.76,9M331.76,9L333.7,9M333.7,9L335.63,8.99M335.63,8.99L337.57,8.99M337.57,8.99L339.51,8.99M339.51,8.99L341.44,8.99M341.44,8.99L343.38,8.99M343.38,8.99L345.31,9M345.31,9L347.25,9.01M347.25,9.01L349.19,9.03M349.19,9.03L351.12,9.05M351.12,9.05L353.06,9.08M353.06,9.08L355,9.11M355,9.11L356.93,9.15M356.93,9.15L358.87,9.2M358.87,9.2L360.8,9.22M360.8,9.22L362.74,9.21M362.74,9.21L364.68,9.31M364.68,9.31L366.61,9.62M366.61,9.62L368.55,10.05M368.55,10.05L370.49,10.68M370.49,10.68L372.42,11.8M372.42,11.8L374.36,14.1M374.36,14.1L376.29,17.63M376.29,17.63L378.23,20.97M378.23,20.97L380.17,24.69M380.17,24.69L382.1,30.57M382.1,30.57L384.04,37.91M384.04,37.91L385.98,52.67M385.98,52.67L387.91,67.7M387.91,67.7L389.85,81.32M389.85,81.32L391.78,89.4M391.78,89.4L393.72,81.52M393.72,81.52L395.66,75.37M395.66,75.37L397.59,67.32M397.59,67.32L399.53,62.9M399.53,62.9L401.47,60.59M401.47,60.59L403.4,58.81M403.4,58.81L405.34,57.73M405.34,57.73L407.27,57.68M407.27,57.68L409.21,58.43M409.21,58.43L411.15,59.56M411.15,59.56L413.08,60.8M413.08,60.8L415.02,61.99M415.02,61.99L416.96,63.39M416.96,63.39L418.89,65.34M418.89,65.34L420.83,68.32M420.83,68.32L422.76,72.37M422.76,72.37L424.7,77.12M424.7,77.12L426.64,81.99M426.64,81.99L428.57,86.76M428.57,86.76L430.51,92.21M430.51,92.21L432.45,100.37M432.45,100.37L434.38,108.12M434.38,108.12L436.32,119.49M436.32,119.49L438.25,127.02M438.25,127.02L440.19,133M440.19,133L442.13,127.95M442.13,127.95L444.06,119.87M444.06,119.87L446,112.01M446,112.01L447.94,102.58M447.94,102.58L449.87,94.12M449.87,94.12L451.81,89.17M451.81,89.17L453.74,85.61M453.74,85.61L455.68,82.68M455.68,82.68L457.62,80.22M457.62,80.22L459.55,77.91M459.55,77.91L461.49,75.69M461.49,75.69L463.43,73.59M463.43,73.59L465.36,71.7M465.36,71.7L467.3,70.1M467.3,70.1L469.23,68.87M469.23,68.87L471.17,67.94M471.17,67.94L473.11,67.25M473.11,67.25L475.04,66.76M475.04,66.76L476.98,66.48M476.98,66.48L478.92,66.39M478.92,66.39L480.85,66.5M480.85,66.5L482.79,66.85M482.79,66.85L484.72,67.43M484.72,67.43L486.66,68.16M486.66,68.16L488.6,68.95M488.6,68.95L490.53,69.81M490.53,69.81L492.47,70.82M492.47,70.82L494.41,72.1M494.41,72.1L496.34,73.75M496.34,73.75L498.28,75.74M498.28,75.74L500.21,77.97M500.21,77.97L502.15,80.3M502.15,80.3L504.09,82.89M504.09,82.89L506.02,85.66M506.02,85.66L507.96,88.4M507.96,88.4L509.9,91.11M509.9,91.11L511.83,93.86M511.83,93.86L513.77,96.49M513.77,96.49L515.7,98.85M515.7,98.85L517.64,101.06M517.64,101.06L519.58,101.5M519.58,101.5L521.51,100.11M521.51,100.11L523.45,97.36M523.45,97.36L525.39,93.4M525.39,93.4L527.32,88.23M527.32,88.23L529.26,81.59M529.26,81.59L531.19,76.45M531.19,76.45L533.13,71.84M533.13,71.84L535.07,67.21M535.07,67.21L537,62.5M537,62.5L538.94,57.76M538.94,57.76L540.88,52.74M540.88,52.74L542.81,46.73M542.81,46.73L544.75,40.86M544.75,40.86L546.68,35.99M546.68,35.99L548.62,31.62M548.62,31.62L550.56,27.28M550.56,27.28L552.49,23.2M552.49,23.2L554.43,19.89M554.43,19.89L556.37,17.46M556.37,17.46L558.3,15.53M558.3,15.53L560.24,13.91M560.24,13.91L562.17,12.5M562.17,12.5L564.11,11.28M564.11,11.28L566.05,10.3M566.05,10.3L567.98,9.65M567.98,9.65L569.92,9.38M569.92,9.38L571.86,9.41M571.86,9.41L573.79,9.53M573.79,9.53L575.73,9.6M575.73,9.6L577.66,9.6M577.66,9.6L579.6,9.59M579.6,9.59L581.54,9.59M581.54,9.59L583.47,9.59M583.47,9.59L585.41,9.59M585.41,9.59L587.35,9.59M587.35,9.59L589.28,9.6M589.28,9.6L591.22,9.62M591.22,9.62L593.15,9.65M593.15,9.65L595.09,9.68M595.09,9.68L597.03,9.72M597.03,9.72L598.96,9.75M598.96,9.75L600.9,9.78M600.9,9.78L602.84,9.8M602.84,9.8L604.77,9.8M604.77,9.8L606.71,9.78M606.71,9.78L608.64,9.76M608.64,9.76L610.58,9.74M610.58,9.74L612.52,9.73M612.52,9.73L614.45,9.75M614.45,9.75L616.39,9.8M616.39,9.8L618.33,9.9M618.33,9.9L620.26,10.05M620.26,10.05L622.2,10.23M622.2,10.23L624.13,10.42M624.13,10.42L626.07,10.59M626.07,10.59L628.01,10.72M628.01,10.72L629.94,10.8M629.94,10.8L631.88,10.82M631.88,10.82L633.82,10.79M633.82,10.79L635.75,10.73M635.75,10.73L637.69,10.64M637.69,10.64L639.62,10.55M639.62,10.55L641.56,10.47M641.56,10.47L643.5,10.4M643.5,10.4L645.43,10.34M645.43,10.34L647.37,10.28M647.37,10.28L649.31,10.21M649.31,10.21L651.24,10.15M651.24,10.15L653.18,10.09M653.18,10.09L655.11,10.04M655.11,10.04L657.05,10M657.05,10L658.99,9.98M658.99,9.98L660.92,9.97M660.92,9.97L662.86,9.97M662.86,9.97L664.8,9.98M664.8,9.98L666.73,9.99M666.73,9.99L668.67,10M668.67,10L670.6,10M670.6,10L672.54,10M672.54,10L674.48,10M674.48,10L676.41,10M676.41,10L678.35,10" fill="none" stroke="#ff00ff" stroke-width="1.7" stroke-dasharray="2.3 5.7" />
<g fill="#ff00ff"><path d="M291.1,12.78 L294.7,6.48 L287.5,6.48Z"/><path d="M304.65,12.78 L308.25,6.48 L301.05,6.48Z"/><path d="M318.21,12.78 L321.81,6.48 L314.61,6.48Z"/><path d="M331.76,12.78 L335.36,6.48 L328.16,6.48Z"/><path d="M345.32,12.78 L348.92,6.48 L341.72,6.48Z"/><path d="M358.87,12.98 L362.47,6.68 L355.27,6.68Z"/><path d="M372.42,15.58 L376.02,9.28 L368.82,9.28Z"/><path d="M385.98,56.48 L389.58,50.18 L382.38,50.18Z"/><path d="M399.53,66.68 L403.13,60.38 L395.93,60.38Z"/><path d="M413.09,64.58 L416.69,58.28 L409.49,58.28Z"/><path d="M426.64,85.78 L430.24,79.48 L423.04,79.48Z"/><path d="M440.19,136.78 L443.79,130.48 L436.59,130.48Z"/><path d="M453.75,89.38 L457.35,83.08 L450.15,83.08Z"/><path d="M467.3,73.88 L470.9,67.58 L463.7,67.58Z"/><path d="M480.86,70.28 L484.46,63.98 L477.26,63.98Z"/><path d="M494.41,75.88 L498.01,69.58 L490.81,69.58Z"/><path d="M507.96,92.18 L511.56,85.88 L504.36,85.88Z"/><path d="M521.52,103.88 L525.12,97.58 L517.92,97.58Z"/><path d="M535.07,70.98 L538.67,64.68 L531.47,64.68Z"/><path d="M548.63,35.38 L552.23,29.08 L545.03,29.08Z"/><path d="M562.18,16.28 L565.78,9.98 L558.58,9.98Z"/><path d="M575.73,13.38 L579.33,7.08 L572.13,7.08Z"/><path d="M589.29,13.38 L592.89,7.08 L585.69,7.08Z"/><path d="M602.84,13.58 L606.44,7.28 L599.24,7.28Z"/><path d="M616.4,13.58 L620,7.28 L612.8,7.28Z"/><path d="M629.95,14.58 L633.55,8.28 L626.35,8.28Z"/><path d="M643.5,14.18 L647.1,7.88 L639.9,7.88Z"/><path d="M657.06,13.78 L660.66,7.48 L653.46,7.48Z"/><path d="M670.61,13.78 L674.21,7.48 L667.01,7.48Z"/></g>
</g>
<path d="M291.1,6.6 H678.8 V302.3 H291.1 Z" fill="none" stroke="#222" stroke-width="1.1"/>
<path d="M285.9,6.6 H291.1" stroke="#222" stroke-width="1.1"/>
<path d="M287.9,27.72 H291.1" stroke="#222" stroke-width="1.1"/>
<path d="M285.9,48.84 H291.1" stroke="#222" stroke-width="1.1"/>
<path d="M287.9,69.96 H291.1" stroke="#222" stroke-width="1.1"/>
<path d="M285.9,91.09 H291.1" stroke="#222" stroke-width="1.1"/>
<path d="M287.9,112.21 H291.1" stroke="#222" stroke-width="1.1"/>
<path d="M285.9,133.33 H291.1" stroke="#222" stroke-width="1.1"/>
<path d="M287.9,154.45 H291.1" stroke="#222" stroke-width="1.1"/>
<path d="M285.9,175.57 H291.1" stroke="#222" stroke-width="1.1"/>
<path d="M287.9,196.69 H291.1" stroke="#222" stroke-width="1.1"/>
<path d="M285.9,217.81 H291.1" stroke="#222" stroke-width="1.1"/>
<path d="M287.9,238.94 H291.1" stroke="#222" stroke-width="1.1"/>
<path d="M285.9,260.06 H291.1" stroke="#222" stroke-width="1.1"/>
<path d="M287.9,281.18 H291.1" stroke="#222" stroke-width="1.1"/>
<path d="M285.9,302.3 H291.1" stroke="#222" stroke-width="1.1"/>
<path d="M291.1,302.3 V308.1" stroke="#222" stroke-width="1.1"/>
<path d="M329.83,302.3 V305.7" stroke="#222" stroke-width="1.1"/>
<path d="M368.55,302.3 V308.1" stroke="#222" stroke-width="1.1"/>
<path d="M407.28,302.3 V305.7" stroke="#222" stroke-width="1.1"/>
<path d="M446,302.3 V308.1" stroke="#222" stroke-width="1.1"/>
<path d="M484.73,302.3 V305.7" stroke="#222" stroke-width="1.1"/>
<path d="M523.45,302.3 V308.1" stroke="#222" stroke-width="1.1"/>
<path d="M562.17,302.3 V305.7" stroke="#222" stroke-width="1.1"/>
<path d="M600.9,302.3 V308.1" stroke="#222" stroke-width="1.1"/>
<path d="M639.62,302.3 V305.7" stroke="#222" stroke-width="1.1"/>
<path d="M678.35,302.3 V308.1" stroke="#222" stroke-width="1.1"/>
<g font-size="11"><text x="281.3" y="10.2" text-anchor="end">0</text>
<text x="281.3" y="52.44" text-anchor="end">-10</text>
<text x="281.3" y="94.69" text-anchor="end">-20</text>
<text x="281.3" y="136.93" text-anchor="end">-30</text>
<text x="281.3" y="179.17" text-anchor="end">-40</text>
<text x="281.3" y="221.41" text-anchor="end">-50</text>
<text x="281.3" y="263.66" text-anchor="end">-60</text>
<text x="281.3" y="305.9" text-anchor="end">-70</text>
<text x="291.1" y="320.8" text-anchor="middle">1</text>
<text x="368.55" y="320.8" text-anchor="middle">2</text>
<text x="446" y="320.8" text-anchor="middle">3</text>
<text x="523.45" y="320.8" text-anchor="middle">4</text>
<text x="600.9" y="320.8" text-anchor="middle">5</text>
<text x="678.35" y="320.8" text-anchor="middle">6</text></g>

<text x="434.6" y="335.4" font-size="13" textLength="101" lengthAdjust="spacingAndGlyphs">Frequency (GHz)</text>
<text transform="translate(258.3,218.8) rotate(-90)" x="0" y="0" font-size="13" textLength="110.5" lengthAdjust="spacingAndGlyphs">S-parameters(dB)</text>
<text x="301.2" y="33.5" font-size="15" style="font-family:'Liberation Serif',serif">(b)</text>

<path d="M410.2,181.8 H441" stroke="#000" stroke-width="1.4"/>
<g fill="#000"><rect x="422.9" y="179.2" width="5.2" height="5.2"/></g>
<text x="445" y="186.8" font-size="13">S</text>
<text x="453.3" y="192.1" font-size="8.5">21</text>
<text x="463.7" y="186.8" font-size="13" textLength="69.6" lengthAdjust="spacingAndGlyphs">(Measured)</text>
<path d="M410.2,203.5 H441" stroke="#ff0000" stroke-width="1.4"/>
<g fill="#ff0000"><circle cx="425.5" cy="203.5" r="3"/></g>
<text x="445" y="208.5" font-size="13">S</text>
<text x="453.3" y="213.8" font-size="8.5">11</text>
<text x="463.7" y="208.5" font-size="13" textLength="69.6" lengthAdjust="spacingAndGlyphs">(Measured)</text>
<path d="M410.2,225.2 H441" stroke="#0000ff" stroke-width="1.7" stroke-dasharray="2 6"/>
<g fill="#0000ff"><path d="M425.5,221.42 L429.1,227.72 L421.9,227.72Z"/></g>
<text x="445" y="230.2" font-size="13">S</text>
<text x="453.3" y="235.5" font-size="8.5">21</text>
<text x="463.7" y="230.2" font-size="13" textLength="69.6" lengthAdjust="spacingAndGlyphs">(Simulated)</text>
<path d="M410.2,246.9 H441" stroke="#ff00ff" stroke-width="1.7" stroke-dasharray="2 6"/>
<g fill="#ff00ff"><path d="M425.5,250.68 L429.1,244.38 L421.9,244.38Z"/></g>
<text x="445" y="251.9" font-size="13">S</text>
<text x="453.3" y="257.2" font-size="8.5">11</text>
<text x="463.7" y="251.9" font-size="13" textLength="69.6" lengthAdjust="spacingAndGlyphs">(Simulated)</text>
</svg>
</body></html>
